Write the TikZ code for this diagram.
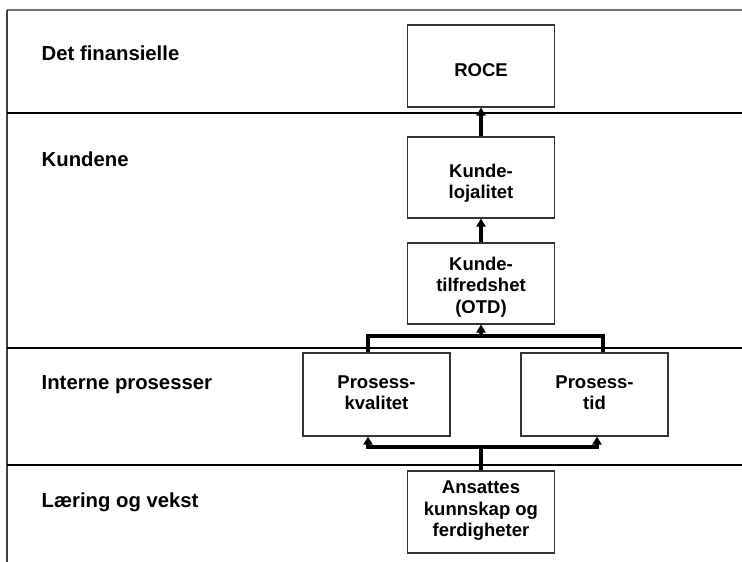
\documentclass[tikz,border=0pt]{standalone}
\usepackage{fontspec}
\setmainfont{Liberation Sans}
\usetikzlibrary{arrows.meta}

\begin{document}
\begin{tikzpicture}[x=1pt,y=-1pt,
  box/.style={draw=black!80, line width=1.1pt, rectangle, inner sep=0pt,
    minimum width=147pt, minimum height=82pt},
  boxtext/.style={align=center, inner sep=0pt,
    font=\bfseries\fontsize{18.5}{21.5}\selectfont},
  lanetext/.style={anchor=base west, inner sep=0pt,
    font=\bfseries\fontsize{20.3}{24}\selectfont},
  link/.style={line width=3.1pt, line join=miter},
  arrow/.style={link, -{Triangle[length=8pt,width=9pt]}}
]
\useasboundingbox (0,0) rectangle (742,562);

% lane frame
\draw[black!55, line width=1.5pt] (7,10) -- (742,10);
\draw[black!75, line width=1.2pt] (7,10) -- (7,562);
\draw[black, line width=1.6pt] (7,113) -- (742,113);
\draw[black, line width=2.5pt] (7,348) -- (742,348);
\draw[black, line width=1.8pt] (7,465) -- (742,465);

% lane titles
\node[lanetext] (fin) at (41.5,60.7) {Det finansielle};
\node[lanetext] (kun) at (41.5,166) {Kundene};
\node[lanetext] (int) at (41.5,389) {Interne prosesser};
\node[lanetext] (lae) at (41.5,507.7) {Læring og vekst};

% measure boxes
\node[box] (roce) at (481,66) {};
\node[box, minimum height=81pt] (lojal) at (481,177.5) {};
\node[box, minimum height=81pt] (tilfr) at (481,283.5) {};
\node[box, minimum height=83pt] (kval) at (376.5,394.5) {};
\node[box, minimum height=83pt] (tid) at (594.5,394.5) {};
\node[box] (ans) at (481,512) {};

% box captions
\node[boxtext] (roceT) at (481,70.5) {ROCE};
\node[boxtext] (lojalT) at (481,183) {Kunde-\\lojalitet};
\node[boxtext] (tilfrT) at (481,287) {Kunde-\\tilfredshet\\(OTD)};
\node[boxtext] (kvalT) at (376.5,392.5) {Prosess-\\kvalitet};
\node[boxtext] (tidT) at (594.5,392.5) {Prosess-\\tid};
\node[boxtext] (ansT) at (481,511) {Ansattes\\kunnskap og\\ferdigheter};

% cause-and-effect links
\draw[arrow] (lojal.north) -- (roce.south);
\draw[arrow] (tilfr.north) -- (lojal.south);

\coordinate (upbar) at (481,336);
\draw[link] ([xshift=-8.5pt]kval.north) |- (upbar) -| ([xshift=8.5pt]tid.north);
\draw[arrow] (upbar) -- (tilfr.south);

\coordinate (downbar) at (481,447);
\draw[link] (ans.north) -- (downbar);
\draw[arrow] (downbar) -| ([xshift=-8.5pt]kval.south);
\draw[arrow] (downbar) -| ([xshift=2.5pt]tid.south);
\end{tikzpicture}
\end{document}
